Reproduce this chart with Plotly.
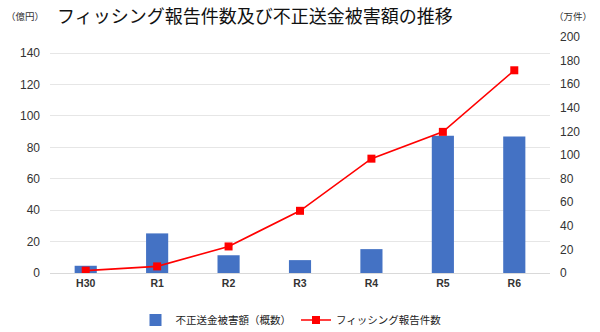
import plotly.graph_objects as go

# 年度別の不正送金被害額（億円）とフィッシング報告件数（万件）
years = ["H30", "R1", "R2", "R3", "R4", "R5", "R6"]
damage_oku = [4.6, 25.2, 11.3, 8.2, 15.2, 87.3, 86.9]
reports_man = [2.0, 5.6, 22.5, 52.7, 96.9, 119.6, 171.8]

left_ticks = [0, 20, 40, 60, 80, 100, 120, 140]
right_ticks = [0, 20, 40, 60, 80, 100, 120, 140, 160, 180, 200]

FONT = "Noto Sans CJK JP"
NUM_FONT = "Liberation Sans, Noto Sans CJK JP"
TICK_COLOR = "#333333"

fig = go.Figure()
fig.add_trace(go.Bar(
    x=years, y=damage_oku, name="不正送金被害額（概数）",
    marker=dict(color="#4472C4", line=dict(width=0)),
    width=0.31, yaxis="y",
))
fig.add_trace(go.Scatter(
    x=years, y=reports_man, name="フィッシング報告件数",
    mode="lines+markers",
    line=dict(color="#FF0000", width=1.6),
    marker=dict(symbol="square", size=8, color="#FF0000"),
    yaxis="y2",
))

fig.update_layout(
    width=600, height=332,
    margin=dict(l=50, r=50, t=37, b=59, autoexpand=False),
    paper_bgcolor="white", plot_bgcolor="white",
    font=dict(family=FONT, size=11, color=TICK_COLOR),
    showlegend=True,
    legend=dict(
        orientation="h", xref="container", x=0.485, xanchor="center",
        yref="container", y=0.036, yanchor="middle",
        font=dict(family=FONT, size=10.5, color="#222222"), traceorder="normal",
        itemwidth=30,
    ),
    bargap=0.6,
    xaxis=dict(
        type="category", showgrid=False, zeroline=False,
        showline=True, linecolor="#D9D9D9", linewidth=1,
        ticks="", tickfont=dict(family=NUM_FONT, size=10.5, color="#333333", weight="bold"),
    ),
    yaxis=dict(
        range=[0, 150.2], tickvals=left_ticks, showgrid=True,
        gridcolor="#E6E6E6", gridwidth=1, zeroline=False,
        ticks="", tickfont=dict(family=NUM_FONT, size=12, color=TICK_COLOR),
        ticklabelstandoff=9,
    ),
    yaxis2=dict(
        range=[0, 200], tickvals=right_ticks, overlaying="y", side="right",
        showgrid=False, zeroline=False, ticks="",
        tickfont=dict(family=NUM_FONT, size=12, color=TICK_COLOR),
        ticklabelstandoff=9,
    ),
)

fig.add_annotation(
    text="フィッシング報告件数及び不正送金被害額の推移",
    xref="paper", yref="paper", x=0.409, y=1.0, yshift=22,
    xanchor="center", yanchor="middle", showarrow=False,
    font=dict(family=FONT, size=18, color="#111111"),
)
fig.add_annotation(
    text="（億円）", xref="paper", yref="paper", x=0, xshift=-46, y=1.0, yshift=21,
    xanchor="left", yanchor="middle", showarrow=False,
    font=dict(family=FONT, size=9.5, color="#333333"),
)
fig.add_annotation(
    text="（万件）", xref="paper", yref="paper", x=1.0, xshift=2, y=1.0, yshift=21,
    xanchor="left", yanchor="middle", showarrow=False,
    font=dict(family=FONT, size=9.5, color="#333333"),
)

fig.write_html("out.html")
